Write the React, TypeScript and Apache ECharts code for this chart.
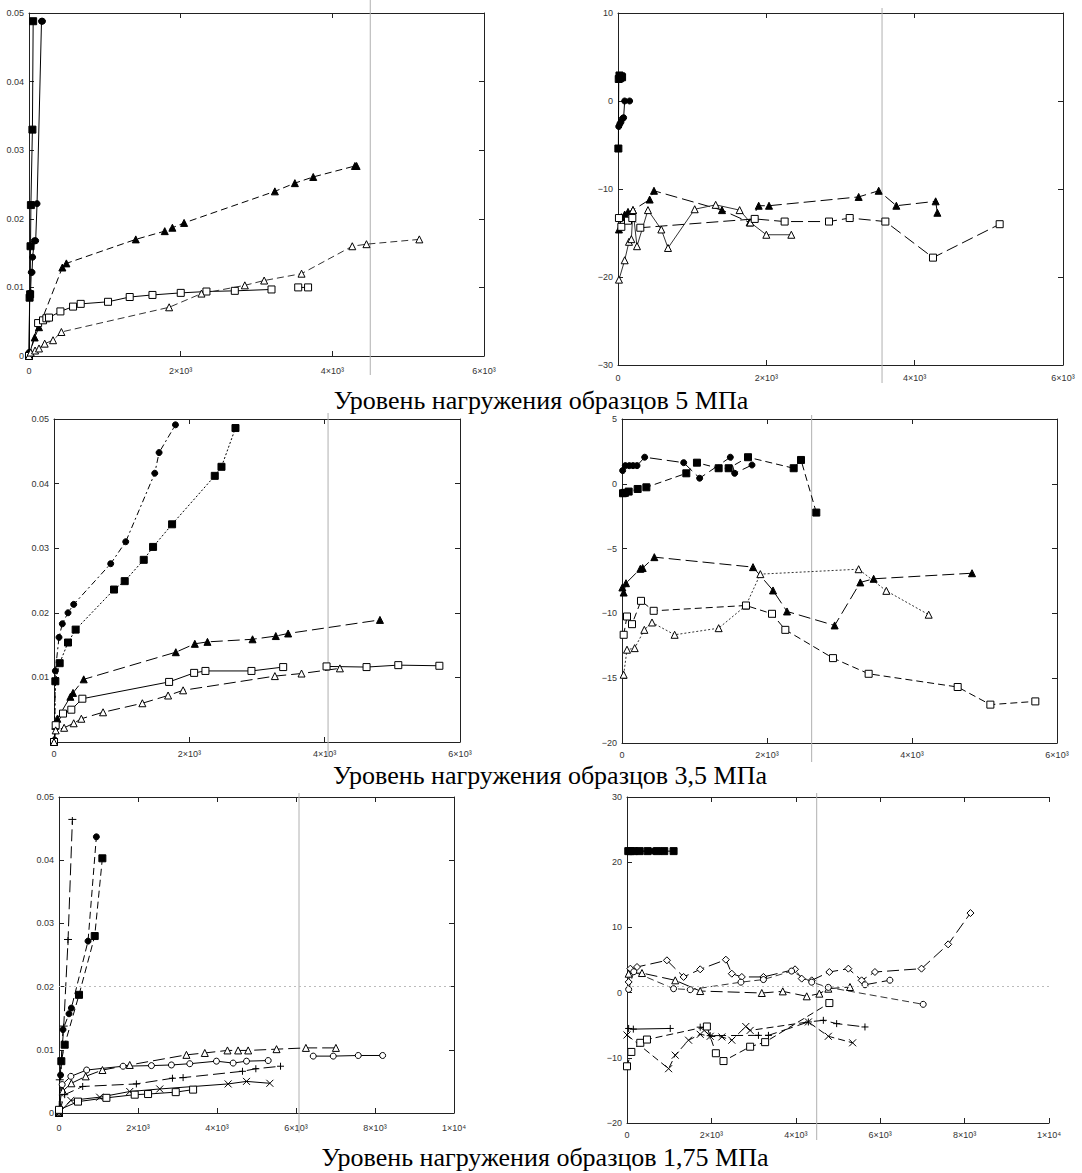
import React, { useEffect, useRef } from "react";
import * as echarts from "echarts";

type P = [number, number] | null;

// ---------- Chart 1 (5 MPa, strain) ----------
const c1FilledSquares: P[] = [[0, 0], [8, 0.0085], [15, 0.009], [20, 0.016], [25, 0.022], [45, 0.033], [55, 0.0488]];
const c1FilledCircles: P[] = [[0, 0.0005], [10, 0.0088], [20, 0.0092], [30, 0.0122], [40, 0.0122], [48, 0.0144], [70, 0.0168], [88, 0.0168], [106, 0.0222], [165, 0.0488], [178, 0.0488]];
const c1FilledTriangles: P[] = [[0, 0], [75, 0.0027], [132, 0.0042], [440, 0.0129], [493, 0.0135], [1408, 0.017], [1790, 0.0182], [1891, 0.0187], [2045, 0.0194], [3242, 0.024], [3506, 0.0252], [3748, 0.0261], [4298, 0.0277], [4320, 0.0277]];
const c1OpenSquares: P[] = [[0, 0], [120, 0.0048], [185, 0.0052], [229, 0.0055], [264, 0.0056], [414, 0.0065], [581, 0.0072], [682, 0.0076], [1042, 0.0079], [1328, 0.0086], [1628, 0.0089], [2001, 0.0092], [2340, 0.0094], [2714, 0.0095], [3198, 0.0097], null, [3550, 0.01], [3680, 0.01]];
const c1OpenTriangles: P[] = [[0, 0], [22, 0.0005], [80, 0.0008], [132, 0.0011], [207, 0.0018], [317, 0.0023], [427, 0.0035], [1848, 0.0071], [2274, 0.0091], [2846, 0.0103], [3101, 0.011], [3594, 0.012], [4263, 0.016], [4450, 0.0163], [5147, 0.017]];

// ---------- Chart 2 (5 MPa, second parameter) ----------
const c2FilledSquares: P[] = [[5, -5.4], [10, 2.5], [20, 2.9], [30, 2.6], [45, 2.8], [55, 2.7]];
const c2FilledCircles: P[] = [[10, -2.9], [25, -2.6], [40, -2.4], [60, -2.0], [76, -1.9], [90, 0], [157, 0]];
const c2FilledTriangles: P[] = [[13, -14.6], [45, -13.2], [90, -12.9], [135, -12.6], [202, -12.4], [427, -11.2], [485, -10.2], [1402, -12.4], [1775, -13.8], [1897, -11.9], [2036, -11.9], [3245, -10.9], [3515, -10.2], [3753, -11.9], [4283, -11.4], [4306, -12.7]];
const c2OpenTriangles: P[] = [[13, -20.3], [90, -18.1], [148, -16.0], [180, -15.7], [202, -12.4], [256, -16.5], [404, -12.4], [584, -14.6], [674, -16.7], [1034, -12.3], [1317, -11.8], [1640, -12.4], [1784, -13.8], [2000, -15.2], [2337, -15.2]];
const c2OpenSquares: P[] = [[13, -13.3], [45, -14.3], [135, -13.6], [193, -13.3], [301, -14.4], [1843, -13.4], [2247, -13.7], [2845, -13.7], [3124, -13.3], [3605, -13.7], [4247, -17.8], [5146, -14.0]];

// ---------- Chart 3 (3.5 MPa, strain) ----------
const c3FilledCircles: P[] = [[0, 0], [10, 0.0003], [20, 0.011], [74, 0.0162], [123, 0.0183], [207, 0.02], [291, 0.0213], [838, 0.0276], [1060, 0.031], [1489, 0.0416], [1553, 0.0448], [1795, 0.0491]];
const c3FilledSquares: P[] = [[0, 0], [20, 0.0094], [84, 0.0122], [207, 0.0154], [320, 0.0174], [887, 0.0236], [1045, 0.0249], [1326, 0.0282], [1464, 0.0302], [1745, 0.0337], [2376, 0.0412], [2475, 0.0426], [2682, 0.0486]];
const c3FilledTriangles: P[] = [[0, 0], [20, 0.0025], [49, 0.0036], [242, 0.007], [281, 0.0076], [439, 0.0097], [1800, 0.0139], [2081, 0.0152], [2268, 0.0155], [2934, 0.0159], [3278, 0.0164], [3460, 0.0168], [4817, 0.0189]];
const c3OpenSquares: P[] = [[0, 0], [25, 0.0026], [133, 0.0044], [256, 0.005], [419, 0.0067], [1701, 0.0093], [2071, 0.0107], [2238, 0.011], [2918, 0.011], [3387, 0.0116], null, [4028, 0.0117], [4619, 0.0116], [5088, 0.0119], [5695, 0.0118]];
const c3OpenTriangles: P[] = [[0, 0], [25, 0.0018], [150, 0.0022], [291, 0.0029], [404, 0.0036], [725, 0.0046], [1306, 0.006], [1686, 0.0072], [1908, 0.008], [3264, 0.0102], [3658, 0.0106], [4225, 0.0114]];

// ---------- Chart 4 (3.5 MPa, second parameter) ----------
const c4FilledCircles: P[] = [[9, 1.02], [46, 1.4], [101, 1.4], [152, 1.4], [207, 1.4], [313, 2.05], [851, 1.63], [1071, 0.43], [1494, 2.05], [1554, 0.81], [1793, 1.45]];
const c4FilledSquares: P[] = [[14, -0.73], [40, -0.7], [92, -0.6], [216, -0.4], [336, -0.27], [887, 0.81], [1034, 1.63], [1333, 1.2], [1471, 1.2], [1738, 2.05], [2368, 1.2], [2469, 1.84], [2680, -2.22]];
const c4FilledTriangles: P[] = [[5, -8.0], [23, -8.39], [55, -7.67], [253, -6.56], [285, -6.5], [446, -5.66], [1807, -6.43], [2083, -8.23], [2276, -9.85], [2933, -10.93], [3287, -7.61], [3471, -7.33], [4828, -6.9]];
const c4OpenTriangles: P[] = [[23, -14.73], [69, -12.8], [175, -12.68], [308, -11.27], [414, -10.7], [726, -11.65], [1333, -11.14], [1710, -9.39], [1908, -6.97], [3264, -6.59], [3646, -8.26], [4230, -10.1]];
const c4OpenSquares: P[] = [[23, -11.65], [69, -10.24], [138, -10.83], [262, -9.03], [437, -9.8], [1710, -9.39], [2069, -10.03], [2253, -11.27], [2910, -13.45], [3402, -14.66], [4630, -15.68], [5081, -17.04], [5701, -16.79]];

// ---------- Chart 5 (1.75 MPa, strain) ----------
const c5Daggers: P[] = [[0, 0], [20, 0.005], [118, 0.0135], [228, 0.0272], [338, 0.0462]];
const c5FilledCircles: P[] = [[0, 0], [40, 0.006], [101, 0.0132], [253, 0.0157], [313, 0.0166], [735, 0.0272], [946, 0.0437]];
const c5FilledSquares: P[] = [[0, 0], [59, 0.0082], [144, 0.0108], [507, 0.0187], [904, 0.028], [1098, 0.0403]];
const c5OpenTriangles: P[] = [[0, 0], [100, 0.0035], [313, 0.0047], [676, 0.0058], [1100, 0.0068], [1791, 0.0076], [3226, 0.0092], [3691, 0.0095], [4265, 0.0099], [4535, 0.0099], [4789, 0.0099], [5507, 0.0101], [6250, 0.0103], [7010, 0.0103]];
const c5OpenCircles: P[] = [[0, 0], [80, 0.0045], [300, 0.0058], [700, 0.0068], [1622, 0.0074], [2340, 0.0075], [2846, 0.0076], [3311, 0.0078], [3986, 0.0082], [4409, 0.0079], [4747, 0.0082], [5296, 0.0083], null, [6436, 0.009], [6943, 0.009], [7576, 0.0091], [8193, 0.0091]];
const c5Plus: P[] = [[0, 0], [144, 0.0029], [600, 0.0042], [1959, 0.0046], [2872, 0.0055], [3142, 0.0056], [4645, 0.0066], [4983, 0.007], [5608, 0.0074]];
const c5Cross: P[] = [[0, 0], [300, 0.002], [1030, 0.0025], [1791, 0.0034], [2551, 0.0038], [4282, 0.0046], [4747, 0.005], [5338, 0.0047]];
const c5OpenSquares: P[] = [[0, 0.0005], [481, 0.0018], [1200, 0.0024], [1917, 0.0029], [2255, 0.003], [2956, 0.0033], [3395, 0.0037]];

// ---------- Chart 6 (1.75 MPa, second parameter) ----------
const c6FilledSquares: P[] = [[30, 21.7], [80, 21.7], [160, 21.7], [300, 21.7], [490, 21.7], [710, 21.7], [883, 21.7], [1104, 21.7]];
const c6FilledCircles: P[] = [[230, 21.7], [620, 21.7], [800, 21.7]];
const c6Diamonds: P[] = [[39, 1.63], [79, 3.67], [237, 3.93], [946, 4.95], [1341, 2.4], [1735, 3.57], [2342, 5.05], [2484, 2.9], [2721, 2.4], [3233, 2.4], [3982, 3.57], [4140, 2.14], [4377, 1.88], [4795, 3.16], [5245, 3.67], [5560, 1.88], [5875, 3.16], [6979, 3.67], [7610, 7.4], [8139, 12.2]];
const c6OpenTriangles: P[] = [[39, 2.9], [355, 3.0], [1143, 1.88], [1735, 0.24], [3194, -0.06], [3691, 0.19], [4259, -0.57], [4558, -0.16], [4771, 0.6], [5284, 0.86]];
const c6OpenCircles: P[] = [[39, 0.5], [160, 3.2], [1104, 0.6], [1498, 0.45], [2700, 1.6], [3233, 2.0], [3900, 3.3], [4377, 1.6], [4771, 0.8], [7019, -1.8]];
const c6OpenCirclesB: P[] = [[5640, 1.2], [6230, 1.9]];
const c6OpenSquares: P[] = [[0, -11.3], [103, -9.1], [315, -7.7], [473, -7.2], [1893, -5.2], [2106, -9.3], [2287, -10.5], [2918, -8.3], [3273, -7.6], [4795, -1.6]];
const c6Cross: P[] = [[0, -6.5], [986, -11.67], [1143, -9.6], [1459, -7.3], [1735, -6.4], [1972, -6.7], [2248, -6.8], [2484, -7.3], [2815, -5.2], [2918, -5.8], [4298, -4.5], [4771, -6.7], [5347, -7.7]];
const c6PlusA: P[] = [[39, -5.5], [150, -5.6], [1025, -5.5]];
const c6PlusB: P[] = [[1735, -5.3], [1972, -6.6], [3115, -6.56], [3352, -6.56], [4298, -4.5], [4653, -4.25], [4968, -4.76], [5639, -5.27]];

// ---------- Axes ----------
const xMaxes = [6000, 6000, 6000, 6000, 10000, 10000];
const xIntervals = [2000, 2000, 2000, 2000, 2000, 2000];
const yMins = [0, -30, 0, -20, 0, -20];
const yMaxes = [0.05, 10, 0.05, 5, 0.05, 30];
const yIntervals = [0.01, 10, 0.01, 5, 0.01, 10];
const grayLineX = [4500, 3560, 4050, 2616, 6076, 4495];
const refLineY: (number | null)[] = [null, null, null, null, 0.021, 1.0];
const captions = [
  "Уровень нагружения образцов 5 МПа",
  "Уровень нагружения образцов 3,5 МПа",
  "Уровень нагружения образцов 1,75 МПа",
];

// ---------- Layout ----------
const GRIDS = [
  { left: 29, top: 13, width: 455, height: 343 },
  { left: 618, top: 13, width: 445, height: 352 },
  { left: 54, top: 419, width: 406, height: 323 },
  { left: 622, top: 419, width: 435, height: 324 },
  { left: 59, top: 797, width: 395, height: 316 },
  { left: 627, top: 797, width: 422, height: 326 },
];
const X_LABEL_MARGIN = [10, 8, 7, 7, 10, 7];
const GRAY_EXT = [[0, 375], [8, 383], [413, 757], [415, 762], [793, 1133], [793, 1140]];
const CAPTION_POS = [[541, 400], [550, 775], [545, 1157]];

const PLUS = "path://M0,5L10,5M5,0L5,10";
const CROSS = "path://M0,0L10,10M10,0L0,10";
const DAGGER = "path://M5,0L5,10M1,3L9,3";

type Sym = { symbol: string; size: number; fill: string };
const S: Record<string, Sym> = {
  fsq: { symbol: "rect", size: 7, fill: "#000" },
  fci: { symbol: "circle", size: 6, fill: "#000" },
  ftr: { symbol: "triangle", size: 7, fill: "#000" },
  osq: { symbol: "rect", size: 7, fill: "#fff" },
  otr: { symbol: "triangle", size: 7, fill: "#fff" },
  oci: { symbol: "circle", size: 6, fill: "#fff" },
  odi: { symbol: "diamond", size: 7, fill: "#fff" },
  plus: { symbol: PLUS, size: 7, fill: "#000" },
  cross: { symbol: CROSS, size: 7, fill: "#000" },
  dagger: { symbol: DAGGER, size: 8, fill: "#000" },
};

const DASH: Record<string, any> = {
  solid: "solid",
  dash: [7, 4],
  long: [12, 5],
  dot: [2, 2],
  dashdot: [6, 3, 2, 3],
};

type Spec = { g: number; d: P[]; s: string; l: string; c?: string };
const SERIES: Spec[] = [
  { g: 0, d: c1FilledSquares, s: "fsq", l: "solid" },
  { g: 0, d: c1FilledCircles, s: "fci", l: "solid" },
  { g: 0, d: c1FilledTriangles, s: "ftr", l: "dash" },
  { g: 0, d: c1OpenSquares, s: "osq", l: "solid" },
  { g: 0, d: c1OpenTriangles, s: "otr", l: "dash", c: "#333" },
  { g: 1, d: c2FilledSquares, s: "fsq", l: "solid" },
  { g: 1, d: c2FilledCircles, s: "fci", l: "solid" },
  { g: 1, d: c2FilledTriangles, s: "ftr", l: "long" },
  { g: 1, d: c2OpenTriangles, s: "otr", l: "solid", c: "#333" },
  { g: 1, d: c2OpenSquares, s: "osq", l: "long" },
  { g: 2, d: c3FilledCircles, s: "fci", l: "dashdot" },
  { g: 2, d: c3FilledSquares, s: "fsq", l: "dot" },
  { g: 2, d: c3FilledTriangles, s: "ftr", l: "long" },
  { g: 2, d: c3OpenSquares, s: "osq", l: "solid" },
  { g: 2, d: c3OpenTriangles, s: "otr", l: "long" },
  { g: 3, d: c4FilledCircles, s: "fci", l: "long" },
  { g: 3, d: c4FilledSquares, s: "fsq", l: "dash" },
  { g: 3, d: c4FilledTriangles, s: "ftr", l: "long" },
  { g: 3, d: c4OpenTriangles, s: "otr", l: "dot", c: "#333" },
  { g: 3, d: c4OpenSquares, s: "osq", l: "dash" },
  { g: 4, d: c5Daggers, s: "dagger", l: "long" },
  { g: 4, d: c5FilledCircles, s: "fci", l: "dash" },
  { g: 4, d: c5FilledSquares, s: "fsq", l: "dash" },
  { g: 4, d: c5OpenTriangles, s: "otr", l: "long" },
  { g: 4, d: c5OpenCircles, s: "oci", l: "solid" },
  { g: 4, d: c5Plus, s: "plus", l: "long" },
  { g: 4, d: c5Cross, s: "cross", l: "solid" },
  { g: 4, d: c5OpenSquares, s: "osq", l: "solid" },
  { g: 5, d: c6FilledSquares, s: "fsq", l: "solid" },
  { g: 5, d: c6FilledCircles, s: "fci", l: "solid" },
  { g: 5, d: c6Diamonds, s: "odi", l: "long" },
  { g: 5, d: c6OpenTriangles, s: "otr", l: "long" },
  { g: 5, d: c6OpenCircles, s: "oci", l: "dash", c: "#333" },
  { g: 5, d: c6OpenCirclesB, s: "oci", l: "long" },
  { g: 5, d: c6OpenSquares, s: "osq", l: "dash" },
  { g: 5, d: c6Cross, s: "cross", l: "dash" },
  { g: 5, d: c6PlusA, s: "plus", l: "solid" },
  { g: 5, d: c6PlusB, s: "plus", l: "long" },
];

const SUP: Record<string, string> = { "3": "\u00B3", "4": "\u2074" };
function fmtX(v: number): string {
  if (v === 0) return "0";
  if (v % 10000 === 0) return v / 10000 + "\u00D710" + SUP["4"];
  return v / 1000 + "\u00D710" + SUP["3"];
}
function fmtY(g: number) {
  return (v: number): string => {
    if (Math.abs(v) < 1e-12) return g === 2 ? "" : "0";
    if (yIntervals[g] < 1) return v.toFixed(2);
    return v < 0 ? "\u2212" + Math.abs(v) : String(v);
  };
}

export default function App() {
  const ref = useRef<HTMLDivElement>(null);
  useEffect(() => {
    if (!ref.current) return;
    const chart = echarts.init(ref.current, null, { renderer: "svg" });
    const labelStyle = { fontSize: 9, color: "#333", fontFamily: "Liberation Sans" };
    const axisLine = { show: true, onZero: false, lineStyle: { color: "#222", width: 1 } };
    const tick = { show: true, inside: true, length: 5, lineStyle: { color: "#222" } };

    const xAxis: any[] = [];
    const yAxis: any[] = [];
    GRIDS.forEach((_, g) => {
      const hideRight = g === 5;
      xAxis.push({
        type: "value", gridIndex: g, position: "bottom", min: 0, max: xMaxes[g], interval: xIntervals[g],
        axisLine, axisTick: tick, splitLine: { show: false },
        axisLabel: { ...labelStyle, margin: X_LABEL_MARGIN[g], formatter: fmtX, showMaxLabel: true, showMinLabel: true },
      });
      xAxis.push({
        type: "value", gridIndex: g, position: "top", min: 0, max: xMaxes[g], interval: xIntervals[g],
        axisLine, axisTick: tick, splitLine: { show: false }, axisLabel: { show: false },
      });
      const yMin = yMins[g];
      yAxis.push({
        type: "value", gridIndex: g, position: "left", min: yMin, max: yMaxes[g], interval: yIntervals[g],
        axisLine, axisTick: tick, splitLine: { show: false },
        axisLabel: { ...labelStyle, margin: 5, formatter: fmtY(g), showMaxLabel: true, showMinLabel: true },
      });
      yAxis.push({
        type: "value", gridIndex: g, position: "right", min: yMin, max: yMaxes[g], interval: yIntervals[g],
        axisLine: { show: !hideRight, onZero: false, lineStyle: { color: "#222", width: 1 } },
        axisTick: hideRight ? { show: false } : tick, splitLine: { show: false }, axisLabel: { show: false },
      });
    });

    const series: any[] = SERIES.map((sp) => {
      const sym = S[sp.s];
      const color = sp.c || "#000";
      return {
        type: "line",
        xAxisIndex: sp.g * 2,
        yAxisIndex: sp.g * 2,
        data: sp.d.map((p) => (p === null ? ["-", "-"] : p)),
        connectNulls: false,
        symbol: sym.symbol,
        symbolSize: sym.size,
        showSymbol: true,
        showAllSymbol: true,
        lineStyle: { color, width: 1, type: DASH[sp.l] },
        itemStyle: { color: sym.fill, borderColor: "#000", borderWidth: 1 },
        emphasis: { disabled: true },
        silent: true,
        z: 3,
      };
    });

    refLineY.forEach((ry, g) => {
      if (ry === null) return;
      series.push({
        type: "line",
        xAxisIndex: g * 2,
        yAxisIndex: g * 2,
        data: [],
        markLine: {
          silent: true,
          symbol: "none",
          label: { show: false },
          lineStyle: { color: "#bbb", type: [2, 3], width: 1 },
          data: [{ yAxis: ry }],
        },
      });
    });

    chart.setOption({
      animation: false,
      backgroundColor: "#fff",
      grid: GRIDS.map((g) => ({ ...g, containLabel: false, show: false })),
      xAxis,
      yAxis,
      series,
    });

    const graphic: any[] = [];
    grayLineX.forEach((gx, g) => {
      const px = chart.convertToPixel({ xAxisIndex: g * 2 } as any, gx) as unknown as number;
      graphic.push({
        type: "line",
        silent: true,
        z: 1,
        shape: { x1: px, y1: GRAY_EXT[g][0], x2: px, y2: GRAY_EXT[g][1] },
        style: { stroke: "#b0b0b0", lineWidth: 1 },
      });
    });
    captions.forEach((t, i) => {
      graphic.push({
        type: "text",
        silent: true,
        x: CAPTION_POS[i][0],
        y: CAPTION_POS[i][1],
        style: {
          text: t,
          fill: "#000",
          font: '26px "Liberation Serif"',
          textAlign: "center",
          textVerticalAlign: "middle",
        },
      });
    });
    chart.setOption({ graphic });

    return () => chart.dispose();
  }, []);
  return (
    <div
      ref={ref}
      style={{ position: "absolute", left: 0, top: 0, width: 1082, height: 1173, background: "#fff" }}
    />
  );
}
